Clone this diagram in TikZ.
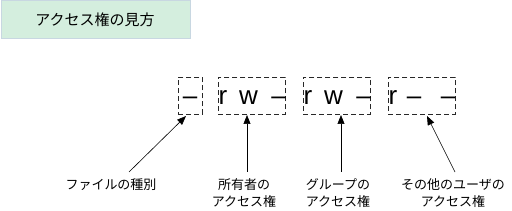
\documentclass[tikz,border=0pt]{standalone}
\usepackage{fontspec}
\setmainfont{Liberation Sans}
\newfontfamily\jpfont{Noto Sans CJK JP}
\usetikzlibrary{arrows.meta}
\definecolor{titlefill}{RGB}{212,238,222}
\definecolor{titledraw}{RGB}{200,215,225}
\definecolor{boxdraw}{RGB}{40,40,40}
\begin{document}
\begin{tikzpicture}[x=1pt,y=-1pt,
  permbox/.style={draw=boxdraw,line width=0.8pt,dash pattern=on 5pt off 3pt},
  permch/.style={font=\fontsize{26}{26}\selectfont,inner sep=0pt,anchor=base},
  lbl/.style={font=\jpfont\fontsize{13}{17}\selectfont,align=center,inner sep=0pt},
  ptr/.style={line width=0.6pt,-{Triangle[length=9pt,width=7pt]}}]
\useasboundingbox (0,0) rectangle (512,211);
% title
\node[draw=titledraw,fill=titlefill,line width=0.8pt,minimum width=189pt,minimum height=38pt,anchor=north west,inner sep=0pt] (title) at (0.5,0.5) {};
\node[font=\jpfont\fontsize{15}{15}\selectfont] (titletext) at (95,20) {アクセス権の見方};
% permission boxes
\node[permbox,minimum width=24pt,minimum height=37pt,inner sep=0pt,anchor=north west] (b1) at (178,77) {};
\node[permbox,minimum width=67pt,minimum height=37pt,inner sep=0pt,anchor=north west] (b2) at (218,77) {};
\node[permbox,minimum width=67pt,minimum height=37pt,inner sep=0pt,anchor=north west] (b3) at (303,77) {};
\node[permbox,minimum width=67pt,minimum height=37pt,inner sep=0pt,anchor=north west] (b4) at (388,77) {};
% characters
\node[permch] (c1) at (190,105) {–};
\node[permch] (c2r) at (223,105) {r};
\node[permch] (c2w) at (248.5,105) {w};
\node[permch] (c2d) at (278.5,105) {–};
\node[permch] (c3r) at (308,105) {r};
\node[permch] (c3w) at (333.5,105) {w};
\node[permch] (c3d) at (363.5,105) {–};
\node[permch] (c4r) at (393,105) {r};
\node[permch] (c4d1) at (414,105) {–};
\node[permch] (c4d2) at (448,105) {–};
% labels
\node[lbl] (l1) at (111,185) {ファイルの種別};
\node[lbl] (l2) at (244,193.5) {所有者の\\アクセス権};
\node[lbl] (l3) at (338,193.5) {グループの\\アクセス権};
\node[lbl] (l4) at (453,193.5) {その他のユーザの\\アクセス権};
% arrow endpoints
\coordinate (t1) at (129,172);
\coordinate (h1) at (186,116);
\coordinate (t2) at (247,172);
\coordinate (h2) at (247,115);
\coordinate (t3) at (341,172);
\coordinate (h3) at (341,115);
\coordinate (t4) at (455,172);
\coordinate (h4) at (427,116);
\draw[ptr] (t1) -- (h1);
\draw[ptr] (t2) -- (h2);
\draw[ptr] (t3) -- (h3);
\draw[ptr] (t4) -- (h4);
\end{tikzpicture}
\end{document}
